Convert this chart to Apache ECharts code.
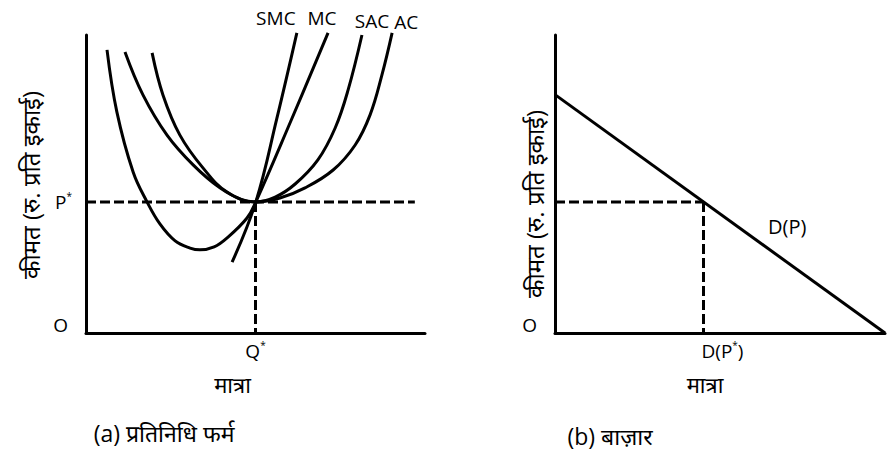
<!DOCTYPE html>
<html>
<head>
<meta charset="utf-8">
<script src="https://cdn.jsdelivr.net/npm/echarts@6/dist/echarts.min.js"></script>
<style>
html,body{margin:0;padding:0;background:#fff;}
#chart{width:889px;height:450px;}
</style>
</head>
<body>
<div id="chart"></div>
<script>
// ---- data (value units: quantity 0..100, price 0..100) ----
const priceStar = 44;          // P*
const qStar = 50;              // Q*
const dStar = 45;              // D(P*)
const smcCurve = [[43.1,23.8],[50.1,44.0],[56.3,72.0],[62.2,100.7]];
const mcCurve  = [[6.2,95.0],[9.1,74.2],[13.9,54.0],[18.0,44.0],[21.8,36.6],[26.3,30.9],[30.7,28.5],[33.6,27.9],[37.8,28.9],[41.6,31.9],[47.5,38.6],[50.1,44.0],[60.3,70.8],[71.4,100.7]];
const sacCurve = [[19.5,94.0],[22.7,79.9],[27.7,66.4],[34.5,55.4],[41.6,47.3],[50.1,44.0],[55.8,45.6],[61.7,50.0],[68.4,58.1],[73.5,68.8],[77.3,81.5],[81.4,100.0]];
const acCurve  = [[11.5,94.3],[16.8,79.9],[23.9,66.4],[31.6,56.4],[39.5,48.7],[46.3,44.6],[50.1,44.0],[57.2,45.3],[64.6,48.7],[72.9,54.7],[79.4,63.1],[83.8,73.2],[87.3,86.6],[90.3,100.7]];
const demandLine = [[0,80],[100,0]];
const curveNames = ['SMC','MC','SAC','AC'];
const axisTitleY = 'कीमत (रु. प्रति इकाई)';
const axisTitleX = 'मात्रा';
const captionA = '(a) प्रतिनिधि फर्म';
const captionB = '(b) बाज़ार';
const demandName = 'D(P)';

const FONT = "'Open Sans','Noto Sans','Noto Sans Devanagari','Lohit Devanagari',sans-serif";
const TXT = {color:'#000', fontFamily:FONT, fontSize:19};
const rich = {
  b:{color:'#000', fontFamily:FONT, fontSize:19},
  s:{color:'#000', fontFamily:FONT, fontSize:10, padding:[0,0,12,0]},
  o:{color:'#000', fontFamily:FONT, fontSize:19, padding:[0,4,16,0]},
  d:{color:'#000', fontFamily:FONT, fontSize:19}
};

function curveSeries(arr, name, offset){
  const data = arr.map((p,i)=> i===arr.length-1
    ? {value:p, label:{show:true, position:'top', distance:5, offset:offset, formatter:name, color:'#000', fontFamily:FONT, fontSize:19}}
    : {value:p});
  return {type:'line', xAxisIndex:0, yAxisIndex:0, data:data, smooth:0.4, clip:false,
    showSymbol:true, symbol:'circle', symbolSize:0, label:{show:false},
    lineStyle:{color:'#000', width:3}, itemStyle:{color:'#000'}, silent:true, animation:false, z:3};
}
function dashSeries(data, gi){
  return {type:'line', xAxisIndex:gi, yAxisIndex:gi, data:data, symbol:'none', clip:false,
    lineStyle:{color:'#000', width:3, type:[10,4]}, silent:true, animation:false, z:2};
}
function yAxisBase(gi, vals, fmt, gap, pad){
  return {gridIndex:gi, type:'value', min:0, max:100,
    axisLine:{show:true, onZero:false, lineStyle:{color:'#000', width:3}},
    axisTick:{show:false}, splitLine:{show:false},
    axisLabel:{customValues:vals, formatter:fmt, margin:14, rich:rich},
    name:axisTitleY, nameLocation:'middle', nameRotate:90, nameGap:gap, nameMoveOverlap:false,
    nameTextStyle:Object.assign({}, TXT, {fontSize:24, padding:pad})};
}
function xAxisBase(gi, vals, fmt, pad, r){
  return {gridIndex:gi, type:'value', min:0, max:100,
    axisLine:{show:true, onZero:false, lineStyle:{color:'#000', width:3}},
    axisTick:{show:false}, splitLine:{show:false},
    axisLabel:{customValues:vals, formatter:fmt, margin:7, rich:r},
    name:axisTitleX, nameLocation:'middle', nameGap:40, nameMoveOverlap:false,
    nameTextStyle:Object.assign({}, TXT, {fontSize:22, padding:pad})};
}

const richD = Object.assign({}, rich, {d:{color:'#000', fontFamily:FONT, fontSize:19, padding:[0,0,0,38]}});

const option = {
  backgroundColor:'#fff',
  animation:false,
  grid:[
    {left:86, top:35, width:339, height:298},
    {left:555, top:35, width:330, height:298}
  ],
  xAxis:[
    xAxisBase(0, [qStar], v => '{b|Q}{s|*}', [0,46,0,0], rich),
    xAxisBase(1, [dStar], v => '{d|D(P}{s|*}{b|)}', [0,30,0,0], richD)
  ],
  yAxis:[
    yAxisBase(0, [0, priceStar], v => v===0 ? '{o|O}' : '{b|P}{s|*}', 44, [0,2,0,0]),
    yAxisBase(1, [0], v => '{o|O}', 9, [0,40,0,0])
  ],
  title:[
    {text:captionA, left:164, top:421, textAlign:'center', padding:0, textStyle:Object.assign({}, TXT, {fontSize:23, fontWeight:'normal'})},
    {text:captionB, left:610, top:424, textAlign:'center', padding:0, textStyle:Object.assign({}, TXT, {fontSize:23, fontWeight:'normal'})}
  ],
  graphic:[
    {type:'text', left:768, top:216, style:{text:demandName, fill:'#000', font:"20px "+FONT}}
  ],
  series:[
    dashSeries([[0,priceStar],[97,priceStar]], 0),
    dashSeries([[qStar,priceStar],[qStar,0]], 0),
    curveSeries(smcCurve, curveNames[0], [-21,0]),
    curveSeries(mcCurve, curveNames[1], [-6,0]),
    curveSeries(sacCurve, curveNames[2], [10,0]),
    curveSeries(acCurve, curveNames[3], [14,4]),
    dashSeries([[0,priceStar],[dStar,priceStar]], 1),
    dashSeries([[dStar,priceStar],[dStar,0]], 1),
    {type:'line', xAxisIndex:1, yAxisIndex:1, data:demandLine, symbol:'none', clip:false,
      lineStyle:{color:'#000', width:3}, silent:true, animation:false, z:3}
  ]
};

const chart = echarts.init(document.getElementById('chart'), null, {renderer:'svg'});
chart.setOption(option);
</script>
</body>
</html>
